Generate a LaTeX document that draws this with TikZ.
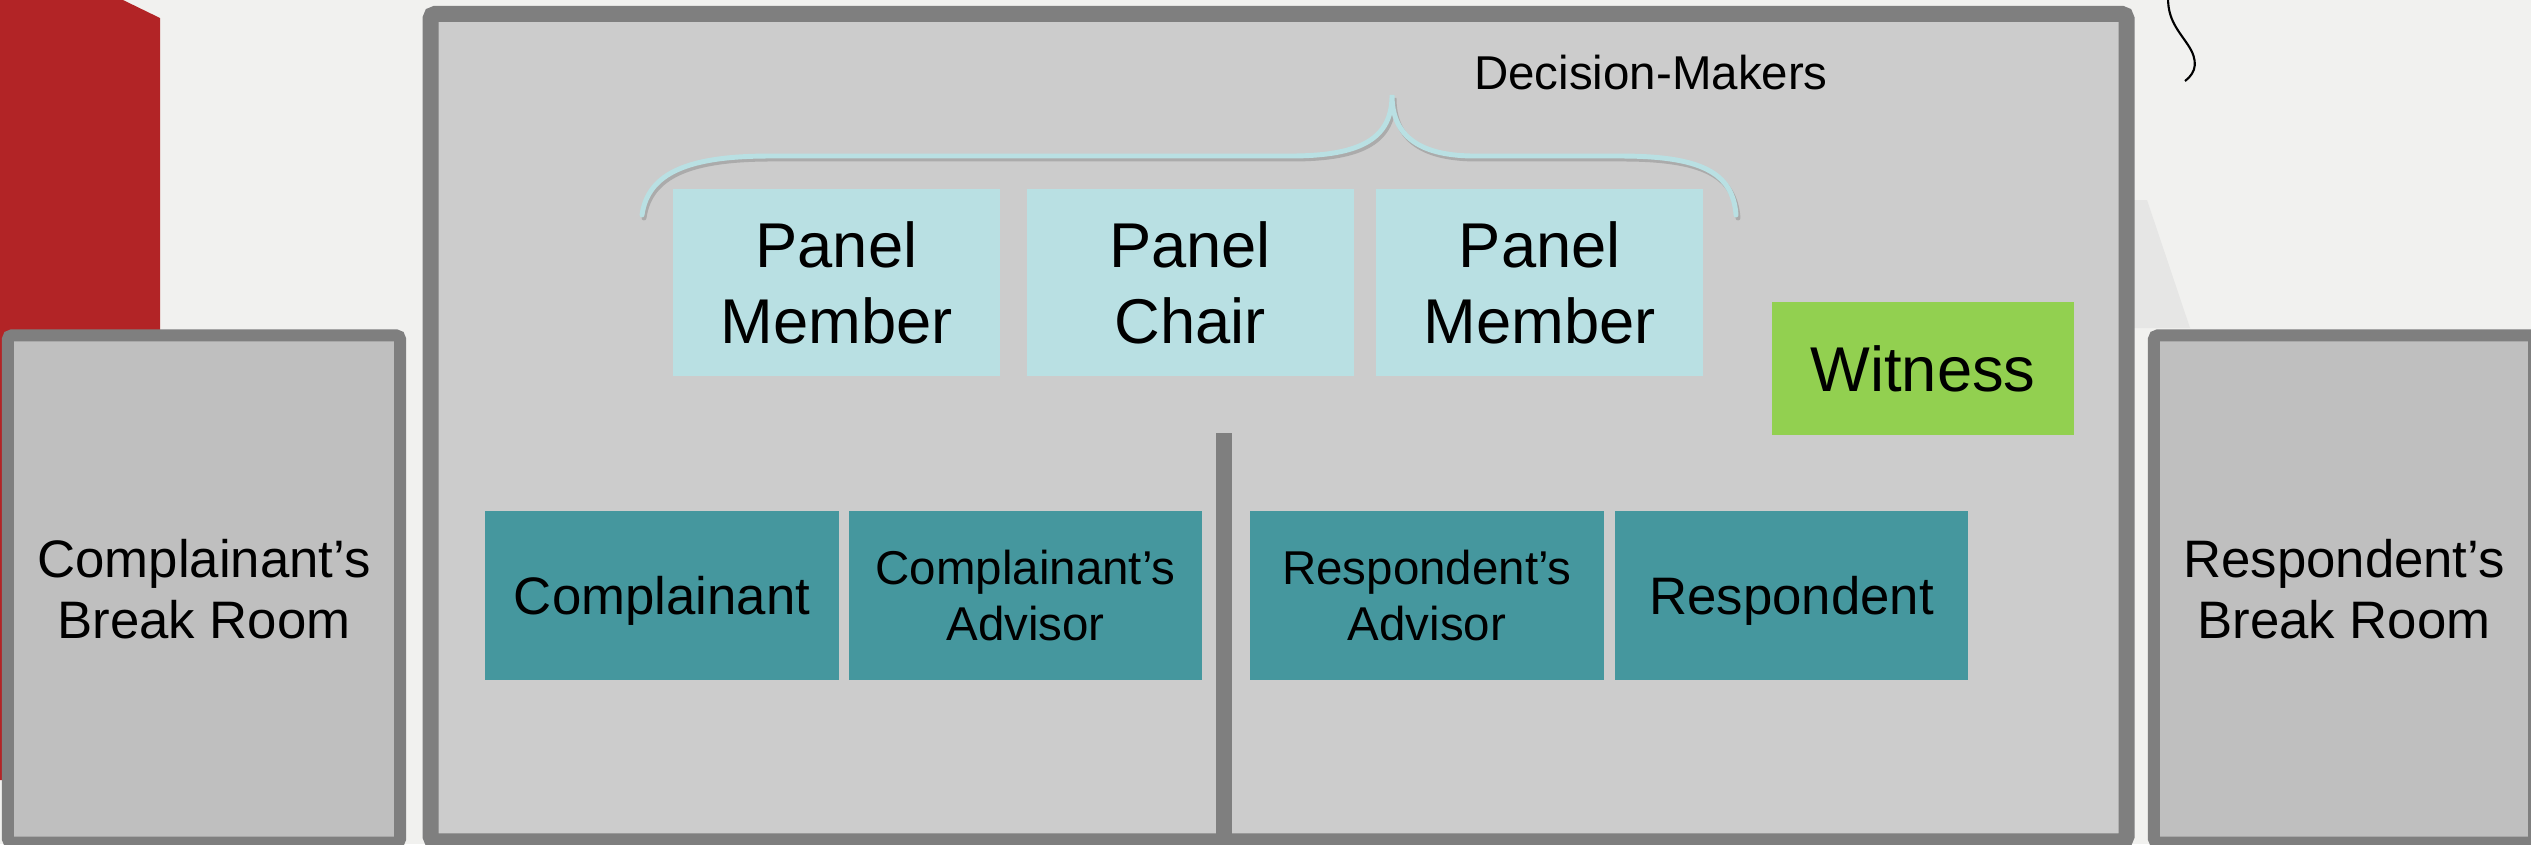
\documentclass[tikz,border=0pt]{standalone}
\usepackage{fontspec}
\setmainfont{Liberation Sans}
\usepackage{xcolor}
\usetikzlibrary{positioning}

\definecolor{floorbg}{HTML}{F1F1EF}
\definecolor{wallgray}{HTML}{7F7F7F}
\definecolor{hallgray}{HTML}{CCCCCC}
\definecolor{roomgray}{HTML}{BFBFBF}
\definecolor{ghostgray}{HTML}{E6E6E5}
\definecolor{doorred}{HTML}{B22426}
\definecolor{panelcyan}{HTML}{B9E0E3}
\definecolor{partyteal}{HTML}{45979E}
\definecolor{witgreen}{HTML}{92D050}
\definecolor{braceshadow}{HTML}{ABABAB}
\definecolor{bracefill}{HTML}{B9E0E3}

\newcommand{\panelbrace}{(642,215) .. controls (648,172) and (690,156) .. (770,156) -- (1290,156)
	.. controls (1362,156) and (1392,138) .. (1392,95)
	.. controls (1392,138) and (1422,156) .. (1475,156) -- (1620,156)
	.. controls (1700,156) and (1733,172) .. (1736,215)}

\begin{document}
\begin{tikzpicture}[x=0.01cm,y=-0.01cm,node distance=0.25cm]
\tikzset{
				roombox/.style={
					draw=wallgray,
					fill=roomgray,
					line width=0.12cm,
					rounded corners=0.04cm,
					minimum height=5.07cm,
					align=center,
					inner sep=0pt,
					font=\fontsize{15pt}{17.5pt}\selectfont
				},
				panelbox/.style={
					fill=panelcyan,
					minimum width=3.27cm,
					minimum height=1.87cm,
					align=center,
					inner sep=0pt,
					font=\fontsize{18pt}{21.6pt}\selectfont
				},
				partybox/.style={
					fill=partyteal,
					minimum width=3.53cm,
					minimum height=1.68cm,
					align=center,
					inner sep=0pt,
					font=\fontsize{15pt}{17.5pt}\selectfont
				},
				bracestroke/.style={
					line width=1.4pt,
					line cap=round
				}
			}
			\useasboundingbox (0,0) rectangle (2531,844);
			\fill[floorbg] (0,0) rectangle (2531,844);
			% background shapes
			\fill[doorred] (0,0) -- (123,0) -- (160,18) -- (160,780) -- (0,780) -- cycle;
			\fill[ghostgray] (2134,200) -- (2147,200) -- (2190,328) -- (2134,328) -- cycle;
			\draw[black,line width=0.6pt] (2168,-2) .. controls (2168,20) and (2178,30) .. (2188,45) .. controls (2198,60) and (2197,72) .. (2185,81);
			
			% rooms
			\node[draw=wallgray,fill=hallgray,line width=0.16cm,rounded corners=0.05cm,minimum width=16.95cm,minimum height=8.27cm,inner sep=0pt] (hall) at (1278.5,427.5) {};
			\node[roombox,minimum width=3.92cm] (cbreak) at (204,589) {Complainant’s\\Break Room};
			\node[roombox,minimum width=3.80cm] (rbreak) at (2344,589) {Respondent’s\\Break Room};
			\draw[wallgray,line width=0.16cm] (1224,433) -- (1224,844);
			
			% decision-makers
			\node[panelbox] (member1) at (836.5,282.5) {Panel\\Member};
			\node[panelbox,right=of member1] (chair) {Panel\\Chair};
			\node[panelbox,right=0.21cm of chair] (member2) {Panel\\Member};
			\node[font=\fontsize{13.5pt}{16pt}\selectfont] (deciders) at (1651,73) {Decision-Makers};
			\draw[bracestroke,braceshadow,shift={(2,3)}] \panelbrace;
			\draw[bracestroke,bracefill] \panelbrace;
			\node[panelbox,fill=witgreen,minimum width=3.02cm,minimum height=1.33cm] (witness) at (1923,368.5) {Witness};
			
			% parties
			\node[partybox,text depth=0pt] (compl) at (662,595.5) {Complainant};
			\node[partybox,right=0.09cm of compl,font=\fontsize{13.5pt}{16pt}\selectfont] (compladv) {Complainant’s\\Advisor};
			\node[partybox,font=\fontsize{13.5pt}{16pt}\selectfont] (respadv) at (1427,595.5) {Respondent’s\\Advisor};
			\node[partybox,right=0.10cm of respadv,text depth=0pt] (resp) {Respondent};
\end{tikzpicture}
\end{document}
